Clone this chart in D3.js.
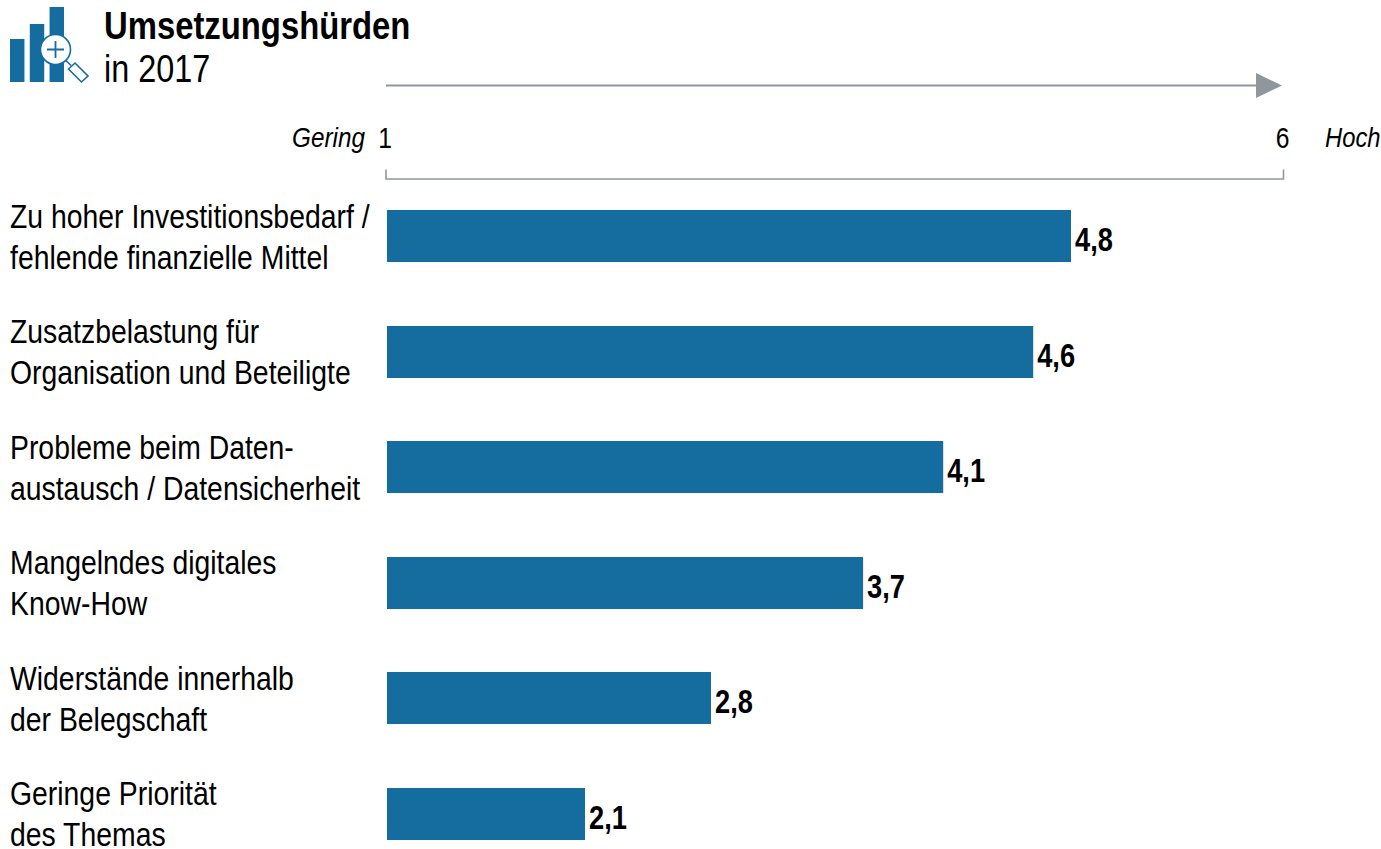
<!DOCTYPE html>
<html>
<head>
<meta charset="utf-8">
<script src="https://cdn.jsdelivr.net/npm/d3@7"></script>
<style>
html, body { margin: 0; padding: 0; background: #fff; }
svg { display: block; }
text { font-family: "Liberation Sans", Arial, sans-serif; fill: #000; }
</style>
</head>
<body>
<div id="chart"></div>
<script>
var categories = [
  ["Zu hoher Investitionsbedarf /", "fehlende finanzielle Mittel"],
  ["Zusatzbelastung für", "Organisation und Beteiligte"],
  ["Probleme beim Daten-", "austausch / Datensicherheit"],
  ["Mangelndes digitales", "Know-How"],
  ["Widerstände innerhalb", "der Belegschaft"],
  ["Geringe Priorität", "des Themas"]
];
var values = [4.8, 4.59, 4.09, 3.645, 2.8, 2.1];
var valueLabels = ["4,8", "4,6", "4,1", "3,7", "2,8", "2,1"];
var axisTicks = [1, 6];
var iconBars = [43, 58, 75];

var width = 1381, height = 849;
var blue = "#156c9f", grey = "#8f969e";

var svg = d3.select("#chart").append("svg")
  .attr("width", width)
  .attr("height", height);

var x = d3.scaleLinear().domain([1, 6]).range([387, 1287]);
var xAxisScale = d3.scaleLinear().domain([1, 6]).range([385.5, 1283]);
var y = d3.scaleBand()
  .domain(d3.range(categories.length))
  .range([210, 840])
  .paddingInner(0.55);

// condensed text: the reference type is a narrowed Arial
function label(sel, px, py, txt, size, opts) {
  opts = opts || {};
  return sel.append("text")
    .attr("transform", "translate(" + px + "," + py + ") scale(" + (opts.sx || 0.86) + ",1)")
    .attr("text-anchor", opts.anchor || "start")
    .attr("font-size", size)
    .attr("font-weight", opts.weight || "normal")
    .attr("font-style", opts.style || "normal")
    .text(txt);
}

// header
label(svg, 104, 39, "Umsetzungshürden", 38.5, { weight: "bold", sx: 0.853 });
label(svg, 104, 82, "in 2017", 38, { sx: 0.853 });

// icon
var icon = svg.append("g").attr("class", "icon");
var iconX = d3.scaleBand().domain(d3.range(iconBars.length)).range([10, 64]).paddingInner(0.27);
var iconY = d3.scaleLinear().domain([0, 75]).range([82, 7]);
icon.selectAll("rect").data(iconBars).enter().append("rect")
  .attr("x", function (d, i) { return iconX(i); })
  .attr("y", function (d) { return iconY(d); })
  .attr("width", iconX.bandwidth())
  .attr("height", function (d) { return iconY(0) - iconY(d); })
  .attr("fill", blue);
icon.append("circle").attr("cx", 55.5).attr("cy", 49.5).attr("r", 15)
  .attr("fill", "#fff").attr("stroke", blue).attr("stroke-width", 1.6);
icon.append("path").attr("d", "M47 49.5H64M55.5 41V58")
  .attr("stroke", blue).attr("stroke-width", 1.8).attr("fill", "none");
icon.append("path").attr("d", "M66 60.5L71 65.5")
  .attr("stroke", blue).attr("stroke-width", 1.6);
icon.append("path").attr("d", "M68.5 69L75 63L88 76L81.5 82Z")
  .attr("stroke", blue).attr("stroke-width", 1.6).attr("fill", "#fff");

// arrow
svg.append("line")
  .attr("x1", 386).attr("x2", 1258).attr("y1", 85.5).attr("y2", 85.5)
  .attr("stroke", grey).attr("stroke-width", 2);
svg.append("path").attr("d", "M1256 73L1282 85.5L1256 98Z").attr("fill", grey);

// scale bracket
var axis = d3.axisTop(xAxisScale)
  .tickValues(axisTicks)
  .tickSizeInner(0)
  .tickSizeOuter(9)
  .tickPadding(31)
  .tickFormat(d3.format("d"));
var axisG = svg.append("g")
  .attr("transform", "translate(0,178.5)")
  .call(axis);
axisG.select(".domain").attr("stroke", grey).attr("stroke-width", 1.6);
axisG.selectAll(".tick line").remove();
axisG.selectAll(".tick text")
  .attr("font-family", "Liberation Sans")
  .attr("font-size", 29)
  .attr("fill", "#000")
  .attr("transform", "translate(-1,0) scale(0.85,1)");

label(svg, 365, 147, "Gering", 28, { anchor: "end", style: "italic", sx: 0.868 });
label(svg, 1325, 147, "Hoch", 28, { style: "italic", sx: 0.85 });

// bars
svg.selectAll("rect.bar").data(values).enter().append("rect")
  .attr("class", "bar")
  .attr("x", x(1))
  .attr("y", function (d, i) { return Math.round(y(i)); })
  .attr("width", function (d) { return x(d) - x(1); })
  .attr("height", y.bandwidth())
  .attr("fill", blue);

values.forEach(function (d, i) {
  label(svg, x(d) + 4, y(i) + 41, valueLabels[i], 33, { weight: "bold", sx: 0.825 });
  label(svg, 10, y(i) + 17.5, categories[i][0], 33);
  label(svg, 10, y(i) + 58.5, categories[i][1], 33);
});
</script>
</body>
</html>
